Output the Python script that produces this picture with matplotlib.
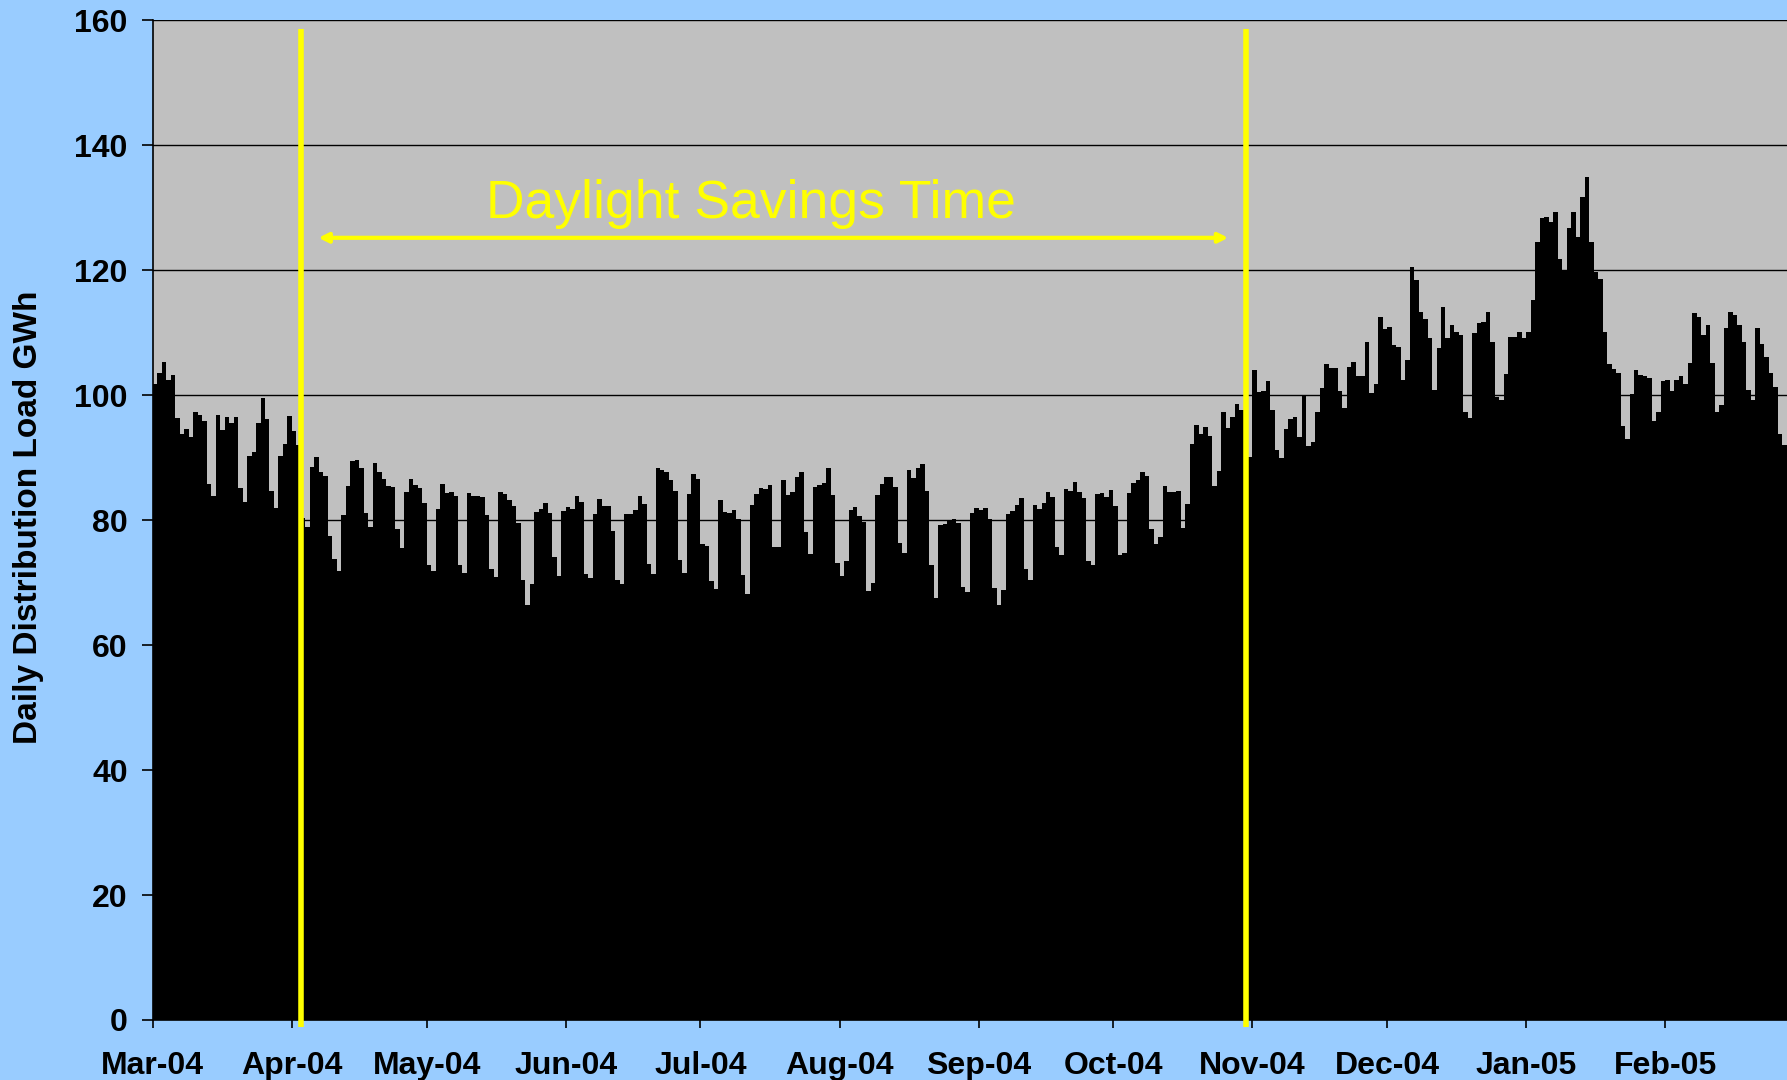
import numpy as np
import matplotlib
matplotlib.use("Agg")
import matplotlib.pyplot as plt

# daily distribution load, GWh, one list per month (Mar 2004 - Feb 2005)
mar04 = [101.8, 103.5, 105.3, 102.5, 103.3, 96.3, 93.8, 94.6, 93.3, 97.3,
         96.8, 95.9, 85.8, 83.8, 96.8, 94.5, 96.5, 95.6, 96.5, 85.2,
         82.9, 90.2, 90.9, 95.6, 99.5, 96.2, 84.6, 82.0, 90.2, 92.2, 96.6]
apr04 = [94.3, 92.0, 80.3, 78.9, 88.5, 90.1, 87.7, 87.0, 77.4, 73.8,
         71.9, 80.8, 85.4, 89.4, 89.6, 88.3, 81.1, 78.9, 89.1, 87.7,
         86.6, 85.4, 85.3, 78.6, 75.5, 84.5, 86.6, 85.6, 85.1, 82.7]
may04 = [72.8, 71.9, 81.8, 85.8, 84.3, 84.5, 83.8, 72.8, 71.5, 84.3,
         83.8, 83.8, 83.7, 80.8, 72.2, 70.9, 84.5, 84.2, 83.2, 82.2,
         79.5, 70.4, 66.4, 69.8, 81.3, 81.8, 82.7, 81.1, 74.1, 71.0, 81.4]
jun04 = [82.1, 81.8, 83.8, 82.9, 71.4, 70.7, 81.0, 83.4, 82.2, 82.2,
         78.2, 70.4, 69.8, 81.0, 81.0, 81.6, 83.8, 82.6, 73.0, 71.4,
         88.3, 88.0, 87.7, 86.4, 84.6, 73.6, 71.5, 84.2, 87.4, 86.6]
jul04 = [76.2, 75.8, 70.2, 69.0, 83.2, 81.3, 81.1, 81.6, 80.2, 71.2,
         68.2, 82.4, 84.2, 85.1, 85.0, 85.6, 75.7, 75.7, 86.4, 84.0,
         84.5, 86.9, 87.7, 78.1, 74.6, 85.3, 85.6, 85.9, 88.3, 84.0, 73.1]
aug04 = [71.0, 73.4, 81.6, 82.1, 80.6, 79.7, 68.6, 69.9, 84.0, 85.8,
         86.9, 86.9, 85.3, 76.3, 74.7, 88.0, 86.7, 88.3, 89.0, 84.6,
         72.8, 67.5, 79.2, 79.4, 79.8, 80.2, 79.5, 69.3, 68.5, 81.1, 81.9]
sep04 = [81.6, 81.9, 80.2, 69.1, 66.4, 68.8, 81.0, 81.4, 82.4, 83.5,
         72.2, 70.4, 82.4, 81.8, 82.7, 84.5, 83.7, 75.7, 74.4, 85.0,
         84.6, 86.1, 84.5, 83.5, 73.4, 72.8, 84.2, 84.3, 83.7, 84.8]
oct04 = [82.2, 74.4, 74.7, 84.3, 85.9, 86.4, 87.7, 87.0, 78.6, 76.2,
         77.3, 85.4, 84.5, 84.5, 84.6, 78.7, 82.6, 92.2, 95.2, 93.8,
         94.9, 93.4, 85.4, 87.8, 97.3, 94.7, 96.5, 98.6, 97.6, 97.0, 90.1]
nov04 = [104.0, 100.5, 100.6, 102.2, 97.6, 91.2, 89.9, 94.6, 96.2, 96.5,
         93.3, 99.8, 91.8, 92.5, 97.3, 101.1, 105.0, 104.3, 104.3, 100.6,
         97.9, 104.5, 105.3, 103.0, 103.0, 108.6, 100.3, 101.8, 112.6, 110.6]
dec04 = [111.0, 108.0, 107.7, 102.4, 105.6, 120.5, 118.4, 113.4, 112.2, 109.1,
         100.8, 107.5, 114.2, 109.1, 111.2, 110.2, 109.6, 97.3, 96.3, 109.9,
         111.5, 111.8, 113.4, 108.6, 99.7, 99.2, 103.4, 109.4, 109.4, 110.2, 109.1]
jan05 = [110.1, 115.2, 124.6, 128.3, 128.6, 127.8, 129.4, 121.8, 120.0, 126.7,
         129.3, 125.4, 131.7, 135.0, 124.6, 119.7, 118.6, 110.1, 105.0, 104.2,
         103.5, 95.0, 93.0, 100.2, 104.0, 103.2, 103.0, 102.7, 95.9, 97.3, 102.2]
feb05 = [102.5, 100.6, 102.5, 103.0, 101.8, 105.1, 113.1, 112.6, 109.6, 111.2,
         105.1, 97.3, 98.4, 110.7, 113.4, 112.8, 111.2, 108.6, 100.8, 99.2,
         110.7, 108.2, 106.1, 103.5, 101.3, 93.8, 92.0, 102.0]

month_labels = ["Mar-04", "Apr-04", "May-04", "Jun-04", "Jul-04", "Aug-04",
                "Sep-04", "Oct-04", "Nov-04", "Dec-04", "Jan-05", "Feb-05"]

# DST start / end (days since 1 Mar 2004)
dst_start = 33.1
dst_end = 243.5

load = np.array(mar04 + apr04 + may04 + jun04 + jul04 + aug04 +
                sep04 + oct04 + nov04 + dec04 + jan05 + feb05)
days = np.arange(len(load))

start = np.datetime64("2004-03-01")
months = np.arange("2004-03", "2005-03", dtype="datetime64[M]")
month_pos = (months.astype("datetime64[D]") - start).astype(int)

font = "Liberation Sans"
yellow = "#FFFF00"

fig = plt.figure(figsize=(17.87, 10.8), dpi=100, facecolor="#99CCFF")
ax = fig.add_axes([0.0855, 0.0556, 0.9168, 0.9255])
ax.set_facecolor("#C0C0C0")

ax.bar(days, load, width=1.0, align="edge", color="black", linewidth=0)

ax.set_xlim(0, 365)
ax.set_ylim(0, 160)
ax.set_yticks(np.arange(0, 161, 20))
ax.set_xticks(month_pos)
ax.set_xticklabels(month_labels)
ax.yaxis.grid(True, color="black", linewidth=1.0)
ax.set_axisbelow(True)

for s in ["top", "right"]:
    ax.spines[s].set_visible(False)
for s in ["left", "bottom"]:
    ax.spines[s].set_color("black")
    ax.spines[s].set_linewidth(1.2)

ax.tick_params(axis="y", length=8, width=1.2, pad=10)
ax.tick_params(axis="x", length=6, width=1.2, pad=16.5)
for lab in ax.get_xticklabels() + ax.get_yticklabels():
    lab.set_fontfamily(font)
    lab.set_fontweight("bold")
    lab.set_fontsize(23)

ax.set_ylabel("Daily Distribution Load GWh", fontfamily=font,
              fontweight="bold", fontsize=24)
ax.yaxis.set_label_coords(-0.0665, 0.503)

# daylight savings markers
for x in [dst_start, dst_end]:
    ax.plot([x, x], [-1.2, 158.7], color=yellow, lw=4, clip_on=False,
            solid_capstyle="butt", zorder=5)

ax.annotate("", xy=(36.9, 125.2), xytext=(239.6, 125.2),
            arrowprops=dict(arrowstyle="<|-|>", color=yellow, lw=3,
                            mutation_scale=14, shrinkA=0, shrinkB=0),
            zorder=5)
ax.text(133.3, 130.6, "Daylight Savings Time", color=yellow,
        fontfamily=font, fontsize=38.5, ha="center", va="center")

fig.savefig("out.png", dpi=100, facecolor=fig.get_facecolor())
